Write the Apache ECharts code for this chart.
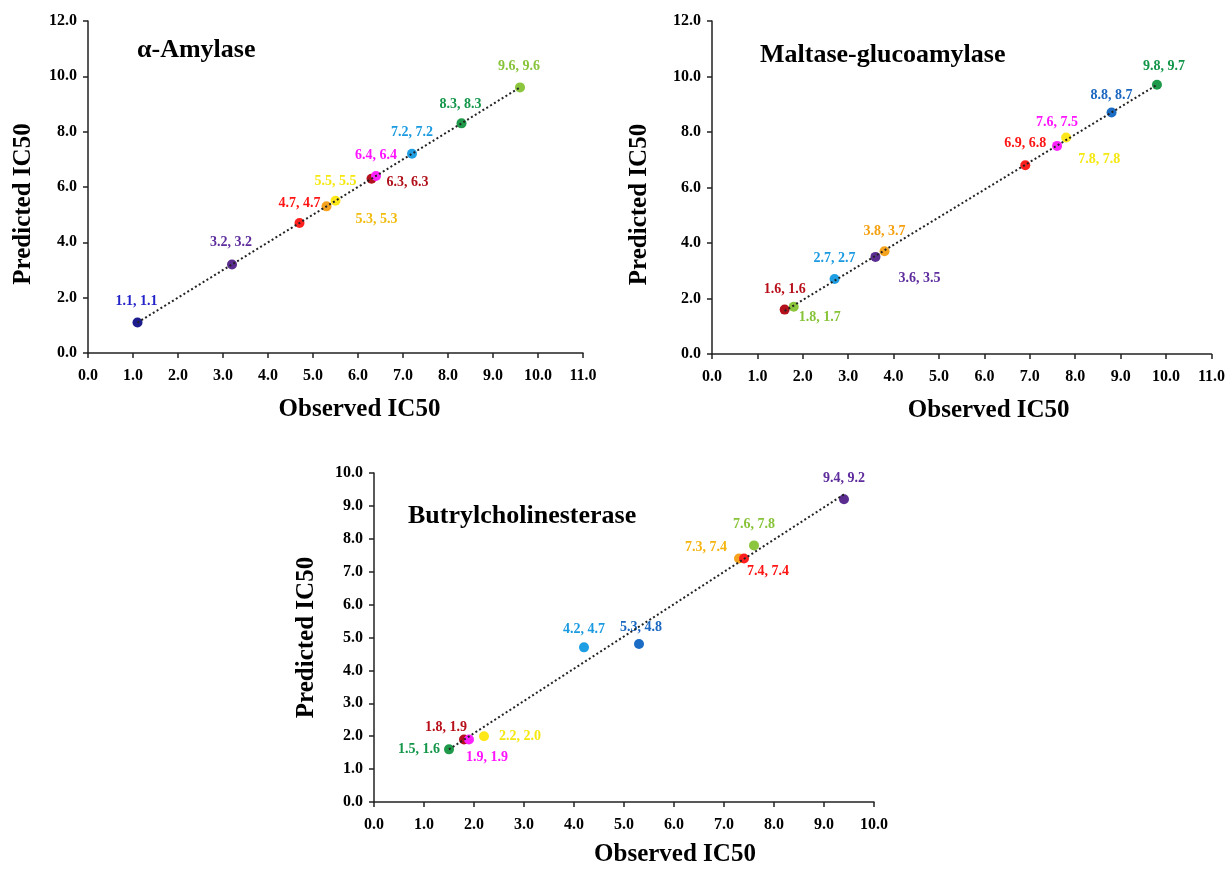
<!DOCTYPE html>
<html>
<head>
<meta charset="utf-8">
<title>Observed vs predicted IC50</title>
<script src="https://cdn.jsdelivr.net/npm/echarts@6/dist/echarts.min.js"></script>
<style>
  html, body { margin: 0; padding: 0; background: #fff; }
  #chart { width: 1228px; height: 872px; }
</style>
</head>
<body>
<div id="chart"></div>
<script>
// 数据 (observed, predicted)
const amyObs = [1.1, 3.2, 4.7, 5.3, 5.5, 6.3, 6.4, 7.2, 8.3, 9.6];
const amyPred = [1.1, 3.2, 4.7, 5.3, 5.5, 6.3, 6.4, 7.2, 8.3, 9.6];
const amyTrend = [[1.1, 1.1], [9.6, 9.6]];

const mgaObs = [1.6, 1.8, 2.7, 3.6, 3.8, 6.9, 7.6, 7.8, 8.8, 9.8];
const mgaPred = [1.6, 1.7, 2.7, 3.5, 3.7, 6.8, 7.5, 7.8, 8.7, 9.7];
const mgaTrend = [[1.6, 1.55], [9.8, 9.7]];

const bcheObs = [1.5, 1.8, 1.9, 2.2, 4.2, 5.3, 7.3, 7.4, 7.6, 9.4];
const bchePred = [1.6, 1.9, 1.9, 2.0, 4.7, 4.8, 7.4, 7.4, 7.8, 9.2];
const bcheTrend = [[1.5, 1.6], [9.4, 9.35]];

const titles = ['α-Amylase', 'Maltase-glucoamylase', 'Butrylcholinesterase'];

// 颜色
const amyColors = ['#1c1c8e', '#5b2c90', '#ff1f1f', '#f5a31e', '#ffe81a', '#b3121c', '#ff22ff', '#1e9fe4', '#1f9a4a', '#8cc63f'];
const amyLabelColors = ['#2424c8', '#5e2c9c', '#ff1414', '#f0bc10', '#f5e810', '#b0101a', '#ff14ff', '#1a9ae0', '#14964a', '#88c43a'];
const mgaColors = ['#b3121c', '#8cc63f', '#1e9fe4', '#5b2c90', '#f5a31e', '#ff1f1f', '#ff22ff', '#ffe81a', '#1a6cc4', '#1f9a4a'];
const mgaLabelColors = ['#b8101a', '#88c43a', '#1a9ae0', '#5e2c9c', '#f5a010', '#ff1414', '#ff14ff', '#f5e810', '#1a66c0', '#14964a'];
const bcheColors = ['#1f9a4a', '#b3121c', '#ff22ff', '#ffe81a', '#1e9fe4', '#1a6cc4', '#f5a31e', '#ff1f1f', '#8cc63f', '#5b2c90'];
const bcheLabelColors = ['#14964a', '#b8101a', '#ff14ff', '#f5e810', '#1a9ae0', '#1a66c0', '#f5b410', '#ff1414', '#88c43a', '#5e2c9c'];

// 标签偏移 (label centre relative to point)
const amyOffsets = [[-1, -21], [-1, -22], [0, -20], [50, 13], [0, -19], [36, 4], [0, -21], [0, -21], [-1, -19], [-1, -21]];
const mgaOffsets = [[0, -20], [26, 11], [0, -21], [44, 22], [0, -20], [0, -22], [0, -23], [33, 22], [0, -17], [7, -18]];
const bcheOffsets = [[-30, 0], [-18, -12], [18, 18], [36, 0], [0, -18], [2, -17], [-33, -11], [24, 13], [0, -21], [0, -21]];

const serif = '"Liberation Serif", "Times New Roman", serif';

function pointData(obs, pred, colors, labelColors, offsets) {
  return obs.map((v, i) => ({
    value: [v, pred[i]],
    itemStyle: { color: colors[i], opacity: 1 },
    label: { color: labelColors[i], offset: offsets[i] }
  }));
}

function xAxisOf(idx, max, nameGap, shift) {
  return {
    gridIndex: idx,
    type: 'value',
    min: 0,
    max: max,
    interval: 1,
    name: 'Observed IC50',
    nameLocation: 'middle',
    nameGap: nameGap,
    nameTextStyle: {
      fontFamily: serif, fontWeight: 'bold', fontSize: 25, color: '#000',
      padding: [0, 0, 0, shift * 2]
    },
    axisLine: { lineStyle: { color: '#222', width: 1.5 } },
    axisTick: { show: true, inside: false, length: 5, lineStyle: { color: '#222', width: 1.5 } },
    splitLine: { show: false },
    axisLabel: {
      fontFamily: serif, fontWeight: 'bold', fontSize: 16, color: '#000', margin: 15,
      formatter: (v) => v.toFixed(1)
    }
  };
}

function yAxisOf(idx, max, interval, nameGap, shift) {
  return {
    gridIndex: idx,
    type: 'value',
    min: 0,
    max: max,
    interval: interval,
    name: 'Predicted IC50',
    nameLocation: 'middle',
    nameGap: nameGap,
    nameTextStyle: {
      fontFamily: serif, fontWeight: 'bold', fontSize: 25, color: '#000',
      padding: [0, shift * 2, 0, 0]
    },
    axisLine: { show: true, lineStyle: { color: '#222', width: 1.5 } },
    axisTick: { show: true, inside: false, length: 5, lineStyle: { color: '#222', width: 1.5 } },
    splitLine: { show: false },
    axisLabel: {
      fontFamily: serif, fontWeight: 'bold', fontSize: 16, color: '#000', margin: 11,
      formatter: (v) => v.toFixed(1)
    }
  };
}

function scatterOf(idx, data) {
  return {
    type: 'scatter',
    xAxisIndex: idx,
    yAxisIndex: idx,
    symbolSize: 10,
    z: 3,
    data: data,
    label: {
      show: true,
      position: 'inside',
      fontFamily: serif,
      fontWeight: 'bold',
      fontSize: 14,
      formatter: (p) => p.value[0].toFixed(1) + ', ' + p.value[1].toFixed(1)
    }
  };
}

function trendOf(idx, data) {
  return {
    type: 'line',
    xAxisIndex: idx,
    yAxisIndex: idx,
    data: data,
    symbol: 'none',
    silent: true,
    z: 4,
    lineStyle: { color: '#222', width: 2, type: [2, 2.5] }
  };
}

const chart = echarts.init(document.getElementById('chart'));

const option = {
  backgroundColor: '#fff',
  animation: false,
  title: [
    { text: titles[0], left: 137, top: 37 },
    { text: titles[1], left: 760, top: 42 },
    { text: titles[2], left: 408, top: 503 }
  ].map((t) => Object.assign(t, {
    padding: 0,
    textStyle: { fontFamily: serif, fontWeight: 'bold', fontSize: 26, color: '#000' }
  })),
  grid: [
    { left: 88, top: 21, width: 495, height: 332 },
    { left: 712, top: 21, width: 500, height: 333 },
    { left: 374, top: 473, width: 500, height: 329 }
  ],
  xAxis: [
    xAxisOf(0, 11, 44, 24),
    xAxisOf(1, 11, 44, 27),
    xAxisOf(2, 10, 40, 51)
  ],
  yAxis: [
    yAxisOf(0, 12, 2, 52, 17),
    yAxisOf(1, 12, 2, 60, 17),
    yAxisOf(2, 10, 1, 55, 0)
  ],
  series: [
    trendOf(0, amyTrend),
    scatterOf(0, pointData(amyObs, amyPred, amyColors, amyLabelColors, amyOffsets)),
    trendOf(1, mgaTrend),
    scatterOf(1, pointData(mgaObs, mgaPred, mgaColors, mgaLabelColors, mgaOffsets)),
    trendOf(2, bcheTrend),
    scatterOf(2, pointData(bcheObs, bchePred, bcheColors, bcheLabelColors, bcheOffsets))
  ]
};

chart.setOption(option);
</script>
</body>
</html>
